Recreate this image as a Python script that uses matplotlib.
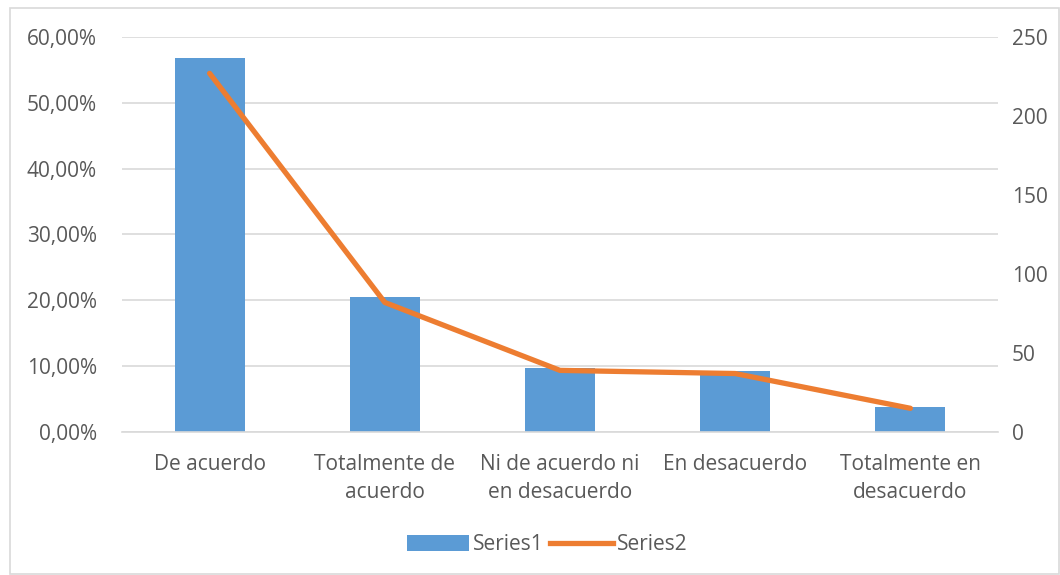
import matplotlib
matplotlib.use("Agg")
import matplotlib.pyplot as plt
from matplotlib.patches import Rectangle, Patch
from matplotlib.lines import Line2D
from matplotlib.ticker import FuncFormatter, MultipleLocator

categories = ["De acuerdo", "Totalmente de\nacuerdo", "Ni de acuerdo ni\nen desacuerdo",
              "En desacuerdo", "Totalmente en\ndesacuerdo"]
series1 = [0.5675, 0.205, 0.0975, 0.0925, 0.0375]   # share of responses
series2 = [227, 82, 39, 37, 15]                      # response counts

BLUE = "#5B9BD5"
ORANGE = "#ED7D31"
GRID = "#D9D9D9"
TEXT = "#595959"
FS = 15

plt.rcParams["font.family"] = ["Open Sans", "DejaVu Sans"]

fig = plt.figure(figsize=(10.6, 5.75), dpi=100)
fig.patch.set_facecolor("white")

# chart frame
fig.patches.append(Rectangle((10 / 1060, 1 - 574 / 575), 1049 / 1060, 566 / 575,
                             transform=fig.transFigure, fill=False,
                             edgecolor=GRID, linewidth=1.2))

left, right, top, bottom = 122, 998, 37, 432
ax = fig.add_axes([left / 1060, 1 - bottom / 575, (right - left) / 1060, (bottom - top) / 575])
x = list(range(len(categories)))

ax.bar(x, series1, width=0.4, color=BLUE, zorder=2)
ax.set_xlim(-0.5, len(categories) - 0.5)
ax.set_ylim(0, 0.60)
ax.yaxis.set_major_locator(MultipleLocator(0.10))
ax.yaxis.set_major_formatter(FuncFormatter(lambda v, p: f"{v * 100:.2f}%".replace(".", ",")))
ax.grid(axis="y", color=GRID, linewidth=1.2, zorder=0)
ax.set_axisbelow(True)
for s in ax.spines.values():
    s.set_visible(False)
ax.spines["bottom"].set_visible(True)
ax.spines["bottom"].set_color(GRID)
ax.spines["bottom"].set_linewidth(1.2)
ax.tick_params(axis="both", length=0, colors=TEXT, labelsize=FS)
ax.tick_params(axis="y", pad=18)
ax.tick_params(axis="x", pad=16)
ax.set_xticks(x)
ax.set_xticklabels(categories, linespacing=1.4)

ax2 = ax.twinx()
ax2.plot(x, series2, color=ORANGE, linewidth=3.8, solid_capstyle="round",
         solid_joinstyle="round", zorder=3)
ax2.set_ylim(0, 250)
ax2.yaxis.set_major_locator(MultipleLocator(50))
for s in ax2.spines.values():
    s.set_visible(False)
ax2.tick_params(axis="y", length=0, colors=TEXT, labelsize=FS, pad=10)

handles = [Patch(facecolor=BLUE, edgecolor="none"),
           Line2D([0], [0], color=ORANGE, linewidth=3.8)]
fig.legend(handles, ["Series1", "Series2"], loc="center",
           bbox_to_anchor=(547 / 1060, 1 - 545 / 575), ncol=2, frameon=False,
           fontsize=FS, labelcolor=TEXT, handlelength=3.0, handletextpad=0.2,
           columnspacing=0.3, handleheight=0.8)

fig.savefig("out.png", dpi=100, facecolor="white")
